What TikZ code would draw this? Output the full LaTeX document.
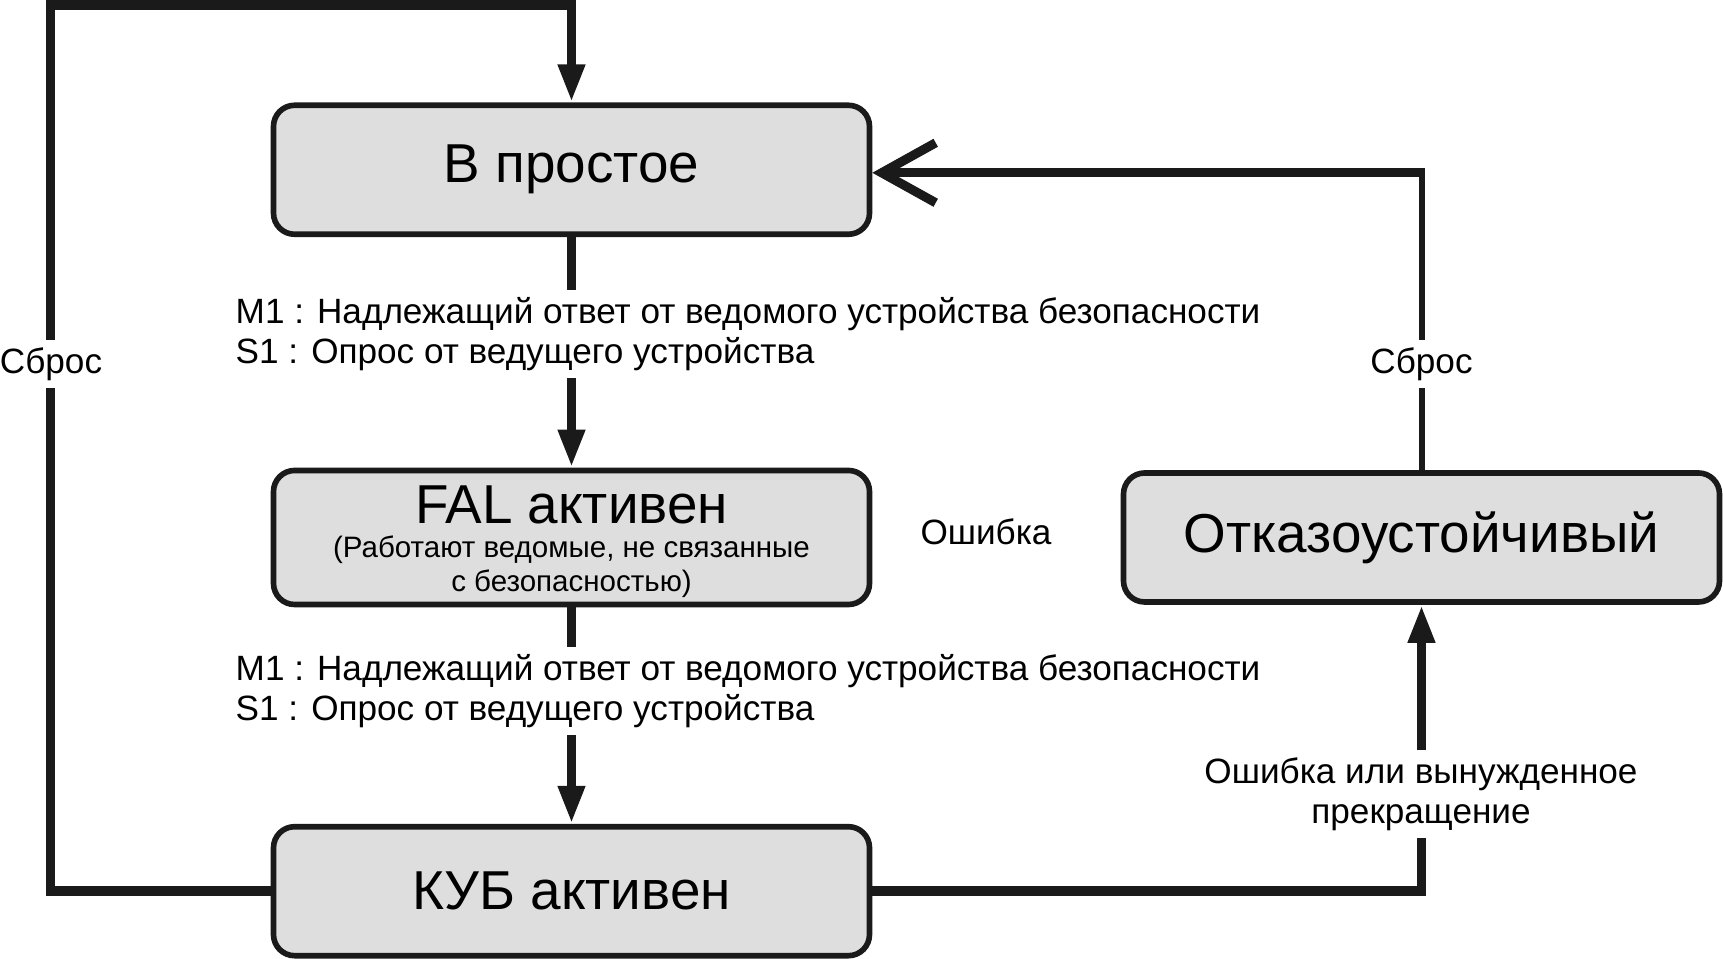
\documentclass[tikz,border=0pt]{standalone}
\usepackage{fontspec}
\setmainfont{Liberation Sans}
\usetikzlibrary{arrows.meta,positioning}
\definecolor{stink}{HTML}{1A1A1A}
\definecolor{stfill}{HTML}{DEDEDE}
\tikzset{
  stbox/.style={draw=stink, fill=stfill, line width=1.6pt, rounded corners=6pt, align=center, inner sep=2pt, minimum width=5.96cm, minimum height=1.29cm, font=\fontsize{15.6}{18}\selectfont},
  flow/.style={-{Triangle[length=3.8mm,width=2.5mm]}, line width=2.7pt, draw=stink},
  resetflow/.style={-{Straight Barb[length=5.4mm,width=6mm]}, line width=2.6pt, draw=stink},
  thinline/.style={line width=1.7pt, draw=stink},
  info/.style={font=\fontsize{10}{11.5}\selectfont, fill=white, inner sep=2pt}
}
\newcommand{\subtxt}{\fontsize{8.4}{9.6}\selectfont}

\begin{document}
\begin{tikzpicture}
  \useasboundingbox (0,0) rectangle (17.23,9.59);
  % states
  \node[stbox] (idle) at (5.715,7.892) {В простое};
  \node[stbox, text width=5.7cm, align=flush center] (fal) at (5.715,4.215) {\rule{0pt}{13.2pt}FAL активен\par{\subtxt (Работают ведомые, не связанные\\с безопасностью)\par}};
  \node[stbox] (cub) at (5.715,0.678) {КУБ активен};
  \node[stbox] (safe) at (14.215,4.215) {Отказоустойчивый};
  \coordinate (tl) at (0.505,9.54);
  \coordinate (ie) at ([yshift=-0.03cm]idle.east);
  \coordinate (tr) at (safe.north |- ie);
  % transitions
  \draw[flow] (idle) -- (fal);
  \draw[flow] (fal) -- (cub);
  \draw[flow] (cub.west) -| (tl) -| (idle.north);
  \draw[flow] (cub.east) -| (safe.south);
  \draw[thinline] (safe.north) -- (tr);
  \draw[resetflow] ([xshift=0.85pt]tr) -- (ie);
  % labels
  \node[info, anchor=west, align=left] (cond1) at (2.28,6.25) {M1 : Надлежащий ответ от ведомого устройства безопасности\\S1 : Опрос от ведущего устройства};
  \node[info, anchor=west, align=left] (cond2) at (2.28,2.68) {M1 : Надлежащий ответ от ведомого устройства безопасности\\S1 : Опрос от ведущего устройства};
  \node[info] (rstl) at (0.51,5.95) {Сброс};
  \node[info] (rstr) at (tr |- rstl) {Сброс};
  \node[info, fill=none] (err) at (9.86,4.27) {Ошибка};
  \node[info, align=center] (errstop) at (14.21,1.65) {Ошибка или вынужденное\\прекращение};
\end{tikzpicture}
\end{document}
